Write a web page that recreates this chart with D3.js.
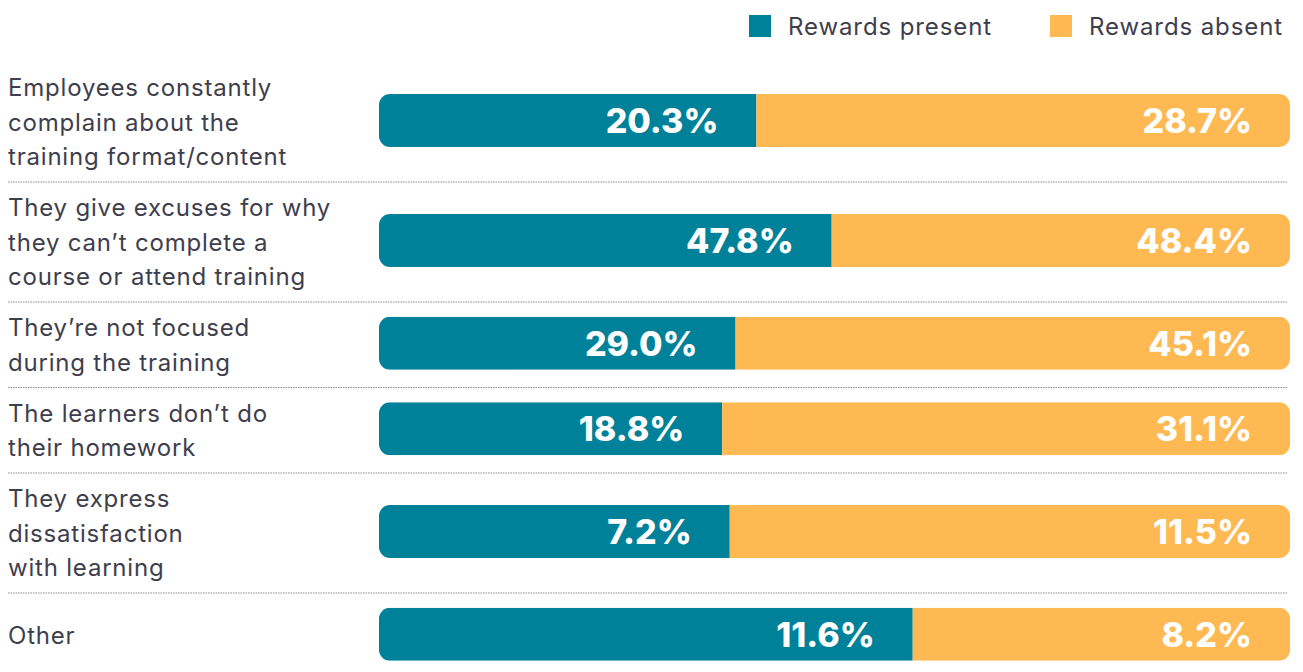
<!DOCTYPE html>
<html>
<head>
<meta charset="utf-8">
<script src="https://cdn.jsdelivr.net/npm/d3@7"></script>
<style>
  body { margin: 0; background: #fff; }
  svg { display: block; font-family: Inter, "Noto Sans", sans-serif; }
</style>
</head>
<body>
<svg id="chart" width="1303" height="672"></svg>
<script>
// data
var categories = [
  ["Employees constantly", "complain about the", "training format/content"],
  ["They give excuses for why", "they can\u2019t complete a", "course or attend training"],
  ["They\u2019re not focused", "during the training"],
  ["The learners don\u2019t do", "their homework"],
  ["They express", "dissatisfaction", "with learning"],
  ["Other"]
]
var seriesNames = ["Rewards present", "Rewards absent"]
var present = [20.3, 47.8, 29.0, 18.8, 7.2, 11.6]
var absent = [28.7, 48.4, 45.1, 31.1, 11.5, 8.2]

var colors = ["#00819a", "#ffb952"]
var svg = d3.select("#chart")

var lineH = 34.5
var barH = 53

// row layout: height depends on how many lines the label takes
var rowTops = []
var yCursor = 62
categories.forEach(function (c) {
  rowTops.push(yCursor)
  yCursor += Math.max(c.length * lineH, 69) + 16.5
})
rowTops.push(yCursor)
var rowHeights = categories.map(function (c, i) { return rowTops[i + 1] - rowTops[i] })
var rowCenters = categories.map(function (c, i) { return rowTops[i] + rowHeights[i] / 2 - 1.5 })

var x = d3.scaleLinear().domain([0, 1]).range([379, 1290])

// separators
svg.selectAll("line.sep").data(rowTops.slice(1, categories.length))
  .enter().append("line")
  .attr("x1", 8).attr("x2", 1288)
  .attr("y1", function (d) { return d }).attr("y2", function (d) { return d })
  .attr("stroke", "#8a8a8a").attr("stroke-width", 1.2)
  .attr("stroke-dasharray", "1.5,1")

// labels
categories.forEach(function (c, i) {
  var t = svg.append("text")
    .attr("x", 8)
    .attr("fill", "#3e3e4c")
    .style("font-size", "24px")
    .style("letter-spacing", "0.8px")
  var n = c.length
  c.forEach(function (line, j) {
    t.append("tspan")
      .attr("x", 8)
      .attr("y", rowCenters[i] + 10 + (j - (n - 1) / 2) * lineH)
      .text(line)
  })
})

// bars
var rows = categories.map(function (c, i) {
  var tot = present[i] + absent[i]
  return { i: i, p: present[i], a: absent[i], share: present[i] / tot, cy: rowCenters[i] }
})

rows.forEach(function (r) {
  var y0 = r.cy - barH / 2
  var clipId = "clip" + r.i
  svg.append("clipPath").attr("id", clipId)
    .append("rect")
    .attr("x", x(0)).attr("y", y0)
    .attr("width", x(1) - x(0)).attr("height", barH)
    .attr("rx", 11).attr("ry", 11)
  var g = svg.append("g").attr("clip-path", "url(#" + clipId + ")")
  g.append("rect")
    .attr("x", x(0)).attr("y", y0)
    .attr("width", x(r.share) - x(0)).attr("height", barH)
    .attr("fill", colors[0])
  g.append("rect")
    .attr("x", x(r.share)).attr("y", y0)
    .attr("width", x(1) - x(r.share)).attr("height", barH)
    .attr("fill", colors[1])

  svg.append("text")
    .attr("x", x(r.share) - 38).attr("y", r.cy + 12.5)
    .attr("text-anchor", "end")
    .attr("fill", "#fff")
    .style("font-size", "34px").style("font-weight", "800")
    .text(r.p.toFixed(1) + "%")
  svg.append("text")
    .attr("x", x(1) - 38).attr("y", r.cy + 12.5)
    .attr("text-anchor", "end")
    .attr("fill", "#fff")
    .style("font-size", "34px").style("font-weight", "800")
    .text(r.a.toFixed(1) + "%")
})

// legend
var legX = [749, 1050]
seriesNames.forEach(function (s, i) {
  svg.append("rect").attr("x", legX[i]).attr("y", 15).attr("width", 22).attr("height", 22)
    .attr("fill", colors[i])
  svg.append("text").attr("x", legX[i] + 39).attr("y", 35)
    .attr("fill", "#3e3e4c").style("font-size", "24px")
    .style("letter-spacing", "0.9px")
    .text(s)
})
</script>
</body>
</html>
